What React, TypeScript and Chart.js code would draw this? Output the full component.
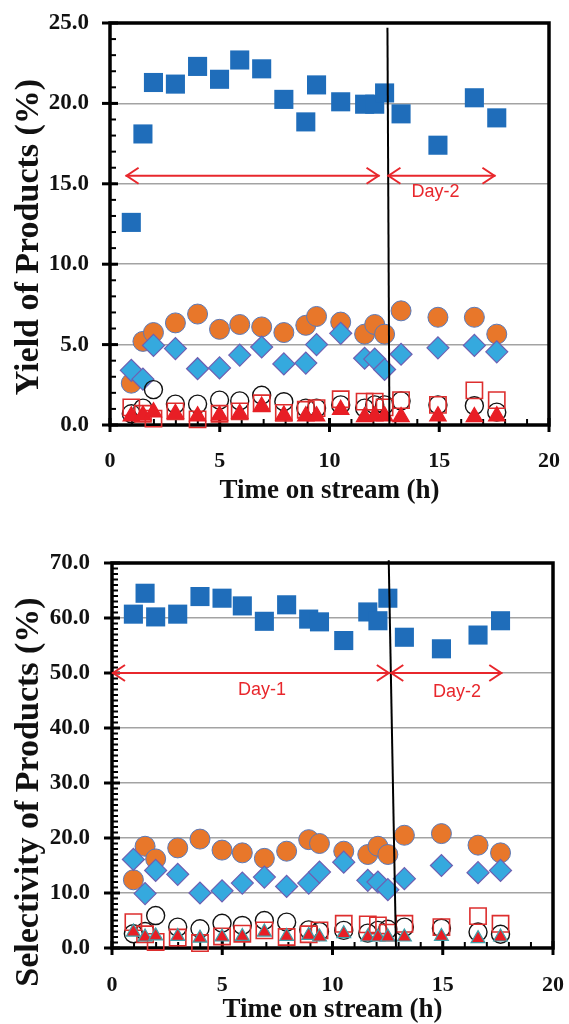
import React, { useEffect, useRef } from "react";
import { Chart, registerables } from "chart.js";
Chart.register(...registerables);

const SERIF = "'Liberation Serif', 'DejaVu Serif', serif";
const SANS = "'Liberation Sans', Arial, sans-serif";

// ---- shared x values (time on stream, h) ----
const TIME_H = [0.97, 1.5, 1.98, 2.98, 3.99, 4.99, 5.91, 6.91, 7.92, 8.92, 9.41, 10.51, 11.6, 12.06, 12.51, 13.26, 14.94, 16.6, 17.62];
const X_TICKS = [0, 5, 10, 15, 20];

// ---- top chart: yield (%) ----
const YIELD_TICKS = [0, 5, 10, 15, 20, 25];
const YIELD_BLUE_SQUARE = [12.6, 18.1, 21.3, 21.2, 22.3, 21.5, 22.7, 22.15, 20.25, 18.85, 21.15, 20.1, 19.95, 19.95, 20.65, 19.35, 17.4, 20.35, 19.1];
const YIELD_ORANGE_CIRCLE = [2.6, 5.2, 5.75, 6.35, 6.9, 5.95, 6.25, 6.1, 5.75, 6.2, 6.75, 6.4, 5.65, 6.25, 5.65, 7.1, 6.7, 6.7, 5.65];
const YIELD_CYAN_DIAMOND = [3.4, 2.85, 4.95, 4.75, 3.5, 3.55, 4.35, 4.85, 3.8, 3.85, 5.0, 5.7, 4.15, 4.1, 3.45, 4.4, 4.8, 4.95, 4.55];
const YIELD_OPEN_CIRCLE = [0.7, 1.05, 2.2, 1.3, 1.3, 1.55, 1.5, 1.85, 1.45, 1.05, 1.05, 1.25, 1.05, 1.25, 1.25, 1.5, 1.25, 1.2, 0.8];
const YIELD_OPEN_SQUARE = [1.1, 0.7, 0.4, 0.85, 0.35, 0.7, 0.85, 1.35, 0.75, 0.95, 1.05, 1.6, 1.45, 1.45, 1.1, 1.55, 1.25, 2.15, 1.55];
const YIELD_RED_TRIANGLE = [0.55, 0.6, 0.8, 0.7, 0.55, 0.6, 0.7, 1.15, 0.6, 0.55, 0.55, 0.95, 0.5, 0.55, 0.55, 0.5, 0.55, 0.5, 0.55];
const YIELD_DIVIDER_X = [12.64, 12.73];
const YIELD_DIVIDER_Y = [24.7, 0];
const YIELD_ARROW_Y = 15.5;
const YIELD_ARROW_FROM = [0.71, 12.64];
const YIELD_ARROW_TO = [12.28, 17.56];
const YIELD_DAY_TEXT = ["Day-2"];
const YIELD_DAY_X = [14.83];
const YIELD_DAY_Y = [14.5];

// ---- bottom chart: selectivity (%) ----
const SEL_TICKS = [0, 10, 20, 30, 40, 50, 60, 70];
const SEL_BLUE_SQUARE = [60.7, 64.5, 60.2, 60.7, 63.9, 63.6, 62.2, 59.4, 62.4, 59.8, 59.3, 55.9, 61.1, 59.5, 63.6, 56.5, 54.4, 56.9, 59.5];
const SEL_ORANGE_CIRCLE = [12.4, 18.5, 16.2, 18.2, 19.8, 17.8, 17.3, 16.3, 17.6, 19.7, 19.0, 17.6, 17.0, 18.5, 17.0, 20.5, 20.8, 18.7, 17.3];
const SEL_CYAN_DIAMOND = [16.1, 9.9, 14.1, 13.4, 10.0, 10.4, 11.8, 12.9, 11.2, 11.8, 13.8, 15.6, 12.3, 12.0, 10.6, 12.6, 15.0, 13.7, 14.1];
const SEL_OPEN_CIRCLE = [2.6, 3.0, 5.9, 3.8, 3.5, 4.5, 4.1, 5.0, 4.7, 3.3, 3.0, 3.2, 2.7, 3.2, 3.4, 3.8, 3.6, 2.9, 2.5];
const SEL_OPEN_SQUARE = [4.7, 2.5, 1.1, 1.9, 0.9, 2.1, 2.6, 3.2, 2.0, 2.5, 3.2, 4.4, 4.3, 4.1, 2.8, 4.4, 3.8, 5.8, 4.4];
const SEL_RED_TRIANGLE = [2.9, 2.0, 2.2, 2.1, 1.8, 2.0, 2.1, 2.9, 2.1, 2.3, 2.0, 2.6, 2.0, 2.0, 2.0, 2.0, 2.1, 1.7, 2.0];
const SEL_DIVIDER_X = [12.55, 12.88];
const SEL_DIVIDER_Y = [70.5, 0];
const SEL_ARROW_Y = 50;
const SEL_ARROW_FROM = [0, 12.62];
const SEL_ARROW_TO = [12.6, 17.7];
const SEL_DAY_TEXT = ["Day-1", "Day-2"];
const SEL_DAY_X = [6.8, 15.65];
const SEL_DAY_Y = [46.85, 46.5];

const RED = "#e8272c";

const frameTicksPlugin = {
  id: "frameTicks",
  beforeDatasetsDraw(chart: any) {
    const { ctx, chartArea: a, scales } = chart;
    const xs = scales.x;
    const ys = scales.y;
    const line = (x1: number, y1: number, x2: number, y2: number) => {
      ctx.beginPath();
      ctx.moveTo(x1, y1);
      ctx.lineTo(x2, y2);
      ctx.stroke();
    };
    ctx.save();
    ctx.strokeStyle = "#000";
    ctx.lineWidth = 2;
    for (let v = ys.min; v <= ys.max + 1e-9; v += 1) {
      const py = ys.getPixelForValue(v);
      line(a.left, py, a.left + 6, py);
    }
    for (let v = xs.min; v <= xs.max + 1e-9; v += 1) {
      const px = xs.getPixelForValue(v);
      line(px, a.bottom, px, a.bottom - 6);
    }
    ctx.lineWidth = 3;
    ys.ticks.forEach((t: any) => {
      const py = ys.getPixelForValue(t.value);
      line(a.left - 8, py, a.left + 8, py);
    });
    xs.ticks.forEach((t: any) => {
      const px = xs.getPixelForValue(t.value);
      line(px, a.bottom - 7, px, a.bottom + 7);
    });
    ctx.lineWidth = 3.5;
    ctx.strokeRect(a.left, a.top, a.right - a.left, a.bottom - a.top);
    ctx.restore();
  },
};

const annotPlugin = {
  id: "annot",
  afterDatasetsDraw(chart: any, _args: any, opts: any) {
    const { ctx, scales } = chart;
    const xs = scales.x;
    const ys = scales.y;
    ctx.save();
    ctx.strokeStyle = RED;
    ctx.lineWidth = 2;
    ctx.lineJoin = "miter";
    const py = ys.getPixelForValue(opts.arrowY);
    opts.from.forEach((f: number, i: number) => {
      const p1 = xs.getPixelForValue(f);
      const p2 = xs.getPixelForValue(opts.to[i]);
      ctx.beginPath();
      ctx.moveTo(p1, py);
      ctx.lineTo(p2, py);
      ctx.stroke();
      ctx.beginPath();
      ctx.moveTo(p1 + 13, py - 8);
      ctx.lineTo(p1 + 1, py);
      ctx.lineTo(p1 + 13, py + 8);
      ctx.stroke();
      ctx.beginPath();
      ctx.moveTo(p2 - 13, py - 8);
      ctx.lineTo(p2 - 1, py);
      ctx.lineTo(p2 - 13, py + 8);
      ctx.stroke();
    });
    ctx.fillStyle = RED;
    ctx.font = `18px ${SANS}`;
    ctx.textAlign = "center";
    ctx.textBaseline = "middle";
    opts.text.forEach((t: string, i: number) => {
      ctx.fillText(t, xs.getPixelForValue(opts.tx[i]), ys.getPixelForValue(opts.ty[i]));
    });
    ctx.restore();
  },
  afterDraw(chart: any, _args: any, opts: any) {
    const { ctx } = chart;
    ctx.save();
    ctx.translate(opts.titleX, opts.titleY);
    ctx.rotate(-Math.PI / 2);
    ctx.fillStyle = "#111";
    ctx.font = `bold 34px ${SERIF}`;
    ctx.textAlign = "center";
    ctx.textBaseline = "middle";
    ctx.fillText(opts.yTitle, 0, 0);
    ctx.restore();
  },
};

type Spec = {
  blue: number[];
  orange: number[];
  diamond: number[];
  openCircle: number[];
  openSquare: number[];
  triangle: number[];
  triBorder: string;
  triRadius: number;
  yMax: number;
  yTicks: number[];
  yTitle: string;
  titleX: number;
  titleY: number;
  dividerX: number[];
  dividerY: number[];
  arrowY: number;
  from: number[];
  to: number[];
  text: string[];
  tx: number[];
  ty: number[];
  padTop: number;
  padRight: number;
  yWidth: number;
  xHeight: number;
  xLabelPad: number;
  xTitlePadBottom: number;
  yLabelPad: number;
  boxHeight: number;
};

function buildConfig(s: Spec): any {
  const pts = (arr: number[]) => TIME_H.map((x, i) => ({ x, y: arr[i] }));
  const marker = (label: string, arr: number[], style: string, r: number, bg: string, border: string, bw: number, order: number) => ({
    label,
    data: pts(arr),
    pointStyle: style,
    pointRadius: r,
    pointHoverRadius: r,
    pointBackgroundColor: bg,
    pointBorderColor: border,
    pointBorderWidth: bw,
    backgroundColor: bg,
    borderColor: border,
    showLine: false,
    clip: false,
    order,
  });
  return {
    type: "scatter",
    data: {
      datasets: [
        {
          label: "divider",
          data: s.dividerX.map((x, i) => ({ x, y: s.dividerY[i] })),
          showLine: true,
          borderColor: "#000",
          borderWidth: 2,
          pointRadius: 0,
          clip: false,
          order: 0,
        },
        marker("triangle", s.triangle, "triangle", s.triRadius, "#e81e25", s.triBorder, 1.2, 1),
        marker("open square", s.openSquare, "rect", 11.5, "rgba(255,255,255,0)", "#dd2e2e", 1.6, 2),
        marker("open circle", s.openCircle, "circle", 9, "rgba(255,255,255,0)", "#111", 1.4, 3),
        marker("diamond", s.diamond, "rectRot", 11, "#35a9de", "#6e5fb2", 1.2, 4),
        marker("orange circle", s.orange, "circle", 10, "#e8772a", "#5a79b8", 1, 5),
        marker("blue square", s.blue, "rect", 13.5, "#1f6dba", "#1f6dba", 0, 6),
      ],
    },
    options: {
      animation: false,
      responsive: true,
      maintainAspectRatio: false,
      layout: { padding: { top: s.padTop, right: s.padRight, left: 0, bottom: 0 } },
      plugins: {
        legend: { display: false },
        tooltip: { enabled: false },
        annot: {
          arrowY: s.arrowY, from: s.from, to: s.to, text: s.text, tx: s.tx, ty: s.ty,
          yTitle: s.yTitle, titleX: s.titleX, titleY: s.titleY,
        },
      },
      scales: {
        x: {
          type: "linear",
          min: 0,
          max: 20,
          afterBuildTicks: (sc: any) => {
            sc.ticks = X_TICKS.map((v) => ({ value: v }));
          },
          afterFit: (sc: any) => {
            sc.height = s.xHeight;
            sc.paddingLeft = 0;
            sc.paddingRight = 0;
          },
          ticks: {
            font: { family: SERIF, weight: "bold", size: 22 },
            color: "#111",
            padding: s.xLabelPad,
            maxRotation: 0,
            autoSkip: false,
            callback: (v: any) => String(v),
          },
          grid: { display: false, drawTicks: false },
          border: { display: false },
          title: {
            display: true,
            text: "Time on stream (h)",
            color: "#111",
            font: { family: SERIF, weight: "bold", size: 27 },
            padding: { top: 0, bottom: s.xTitlePadBottom },
          },
        },
        y: {
          type: "linear",
          min: 0,
          max: s.yMax,
          afterBuildTicks: (sc: any) => {
            sc.ticks = s.yTicks.map((v) => ({ value: v }));
          },
          afterFit: (sc: any) => {
            sc.width = s.yWidth;
            sc.paddingTop = 0;
            sc.paddingBottom = 0;
          },
          ticks: {
            font: { family: SERIF, weight: "bold", size: 23 },
            color: "#111",
            padding: s.yLabelPad,
            autoSkip: false,
            callback: (v: any) => Number(v).toFixed(1),
          },
          grid: {
            drawTicks: false,
            lineWidth: 1.5,
            color: (c: any) => (c.tick && (c.tick.value === 0 || c.tick.value === s.yMax) ? "rgba(0,0,0,0)" : "#a3a3a3"),
          },
          border: { display: false },
          title: { display: false },
        },
      },
    },
    plugins: [frameTicksPlugin, annotPlugin],
  };
}

const topSpec: Spec = {
  blue: YIELD_BLUE_SQUARE,
  orange: YIELD_ORANGE_CIRCLE,
  diamond: YIELD_CYAN_DIAMOND,
  openCircle: YIELD_OPEN_CIRCLE,
  openSquare: YIELD_OPEN_SQUARE,
  triangle: YIELD_RED_TRIANGLE,
  triBorder: "#e81e25",
  triRadius: 9.5,
  yMax: 25,
  yTicks: YIELD_TICKS,
  yTitle: "Yield of Products (%)",
  titleX: 29,
  titleY: 237,
  dividerX: YIELD_DIVIDER_X,
  dividerY: YIELD_DIVIDER_Y,
  arrowY: YIELD_ARROW_Y,
  from: YIELD_ARROW_FROM,
  to: YIELD_ARROW_TO,
  text: YIELD_DAY_TEXT,
  tx: YIELD_DAY_X,
  ty: YIELD_DAY_Y,
  padTop: 23,
  padRight: 20,
  yWidth: 110,
  xHeight: 87,
  xLabelPad: 23,
  xTitlePadBottom: 5,
  yLabelPad: 21,
  boxHeight: 512,
};

const bottomSpec: Spec = {
  blue: SEL_BLUE_SQUARE,
  orange: SEL_ORANGE_CIRCLE,
  diamond: SEL_CYAN_DIAMOND,
  openCircle: SEL_OPEN_CIRCLE,
  openSquare: SEL_OPEN_SQUARE,
  triangle: SEL_RED_TRIANGLE,
  triBorder: "#3f9fa8",
  triRadius: 8,
  yMax: 70,
  yTicks: SEL_TICKS,
  yTitle: "Selectivity of Products (%)",
  titleX: 29,
  titleY: 280,
  dividerX: SEL_DIVIDER_X,
  dividerY: SEL_DIVIDER_Y,
  arrowY: SEL_ARROW_Y,
  from: SEL_ARROW_FROM,
  to: SEL_ARROW_TO,
  text: SEL_DAY_TEXT,
  tx: SEL_DAY_X,
  ty: SEL_DAY_Y,
  padTop: 51,
  padRight: 16,
  yWidth: 112,
  xHeight: 84,
  xLabelPad: 24,
  xTitlePadBottom: 6,
  yLabelPad: 22,
  boxHeight: 520,
};

function ChartBox({ spec, top }: { spec: Spec; top: number }) {
  const ref = useRef<HTMLCanvasElement>(null);
  useEffect(() => {
    const chart = new Chart(ref.current as HTMLCanvasElement, buildConfig(spec));
    return () => chart.destroy();
  }, [spec]);
  return (
    <div style={{ position: "absolute", left: 0, top, width: 569, height: spec.boxHeight }}>
      <canvas ref={ref} style={{ display: "block" }} />
    </div>
  );
}

export default function App() {
  return (
    <div style={{ position: "fixed", left: 0, top: 0, width: 569, height: 1024, background: "#fff", overflow: "hidden" }}>
      <ChartBox spec={topSpec} top={0} />
      <ChartBox spec={bottomSpec} top={512} />
    </div>
  );
}
